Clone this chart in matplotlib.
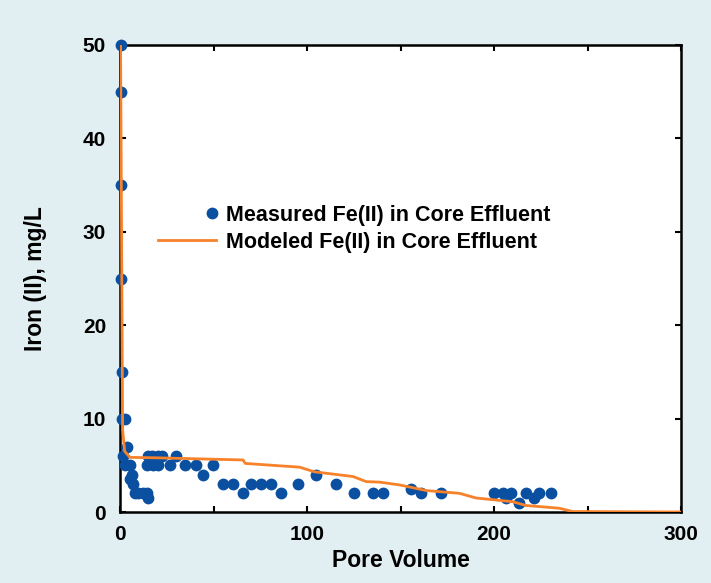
import numpy as np
import matplotlib.pyplot as plt
from matplotlib.legend_handler import HandlerLine2D

plt.rcParams['font.family'] = ['Liberation Sans', 'DejaVu Sans']
plt.rcParams['font.weight'] = 'bold'

# measured Fe(II) in core effluent
pv_meas = [0.3, 0.4, 0.5, 0.6, 1.0, 1.0, 2.7, 3.6, 1.7, 2.7, 5.3, 6.2, 5.3, 7.1, 8.0,
           9.8, 12.5, 14.2, 15.1, 15.1, 16.9, 20.5, 22.2, 30.2, 14.2, 17.8, 20.5,
           26.7, 34.7, 40.9, 49.8, 44.5, 55.2, 60.5, 65.8, 70.3, 75.6, 81.0, 86.3,
           95.2, 104.6, 115.7, 124.9, 135.2, 140.6, 155.7, 161.0, 171.7, 200.2,
           204.6, 209.1, 206.4, 213.6, 217.1, 221.6, 224.2, 230.5]
fe_meas = [50, 45, 35, 25, 15, 10, 10, 7, 6, 5, 5, 4, 3.5, 3, 2,
           2, 2, 2, 1.5, 6, 6, 6, 6, 6, 5, 5, 5,
           5, 5, 5, 5, 4, 3, 3, 2, 3, 3, 3, 2,
           3, 4, 3, 2, 2, 2, 2.5, 2, 2, 2,
           2, 2, 1.5, 1, 2, 1.5, 2, 2]

# modeled Fe(II)
pv_mod = [0.3, 1.4, 2.5, 5.3, 20, 40, 60, 65.8, 67, 96, 104, 124.6, 131.7, 138.8,
          149.5, 156.6, 163.7, 181.5, 190.4, 210, 217, 235, 242, 300]
fe_mod = [50, 8.8, 6.5, 5.85, 5.8, 5.7, 5.6, 5.57, 5.2, 4.8, 4.3, 3.8, 3.25, 3.2,
          2.9, 2.6, 2.3, 2.0, 1.5, 1.1, 0.7, 0.4, 0.05, 0.0]


class MarkerAtEnd(HandlerLine2D):
    # legend dot sits at the right end of the handle box, like the original
    def get_xdata(self, legend, xdescent, ydescent, width, height, fontsize):
        x_end = np.array([-xdescent + width - 3])
        return x_end, x_end


fig = plt.figure(figsize=(7.11, 5.83), dpi=100, facecolor='#e2eff2')
ax = fig.add_axes([120 / 711, 71 / 583, 561 / 711, 467 / 583])
ax.set_facecolor('white')

meas, = ax.plot(pv_meas, fe_meas, 'o', color='#0b4fa0', markersize=8.5,
                markeredgewidth=0, label='Measured Fe(II) in Core Effluent',
                clip_on=False, zorder=3)
ax.plot(pv_mod, fe_mod, color='#f7822a', linewidth=2.0,
        label='Modeled Fe(II) in Core Effluent', zorder=4)

ax.set_xlim(0, 300)
ax.set_ylim(0, 50)
ax.set_xticks([0, 100, 200, 300])
ax.set_xticks([50, 150, 250], minor=True)
ax.set_yticks(np.arange(0, 51, 10))
ax.tick_params(which='both', direction='in', top=True, right=True, labelsize=15,
               width=1.5, length=4, pad=9)
ax.tick_params(axis='y', pad=10)

for s in ax.spines.values():
    s.set_linewidth(1.8)

ax.set_xlabel('Pore Volume', fontsize=16.5, fontweight='bold', labelpad=4)
ax.set_ylabel('Iron (II), mg/L', fontsize=16.5, fontweight='bold', labelpad=26)

ax.legend(loc='upper left', bbox_to_anchor=(38 / 561, 0.658), frameon=False,
          fontsize=15.5, borderpad=0, borderaxespad=0, handlelength=2.7,
          handletextpad=0.45, labelspacing=0.27,
          handler_map={meas: MarkerAtEnd(numpoints=2)})

plt.savefig('out.png', dpi=100, facecolor=fig.get_facecolor())
